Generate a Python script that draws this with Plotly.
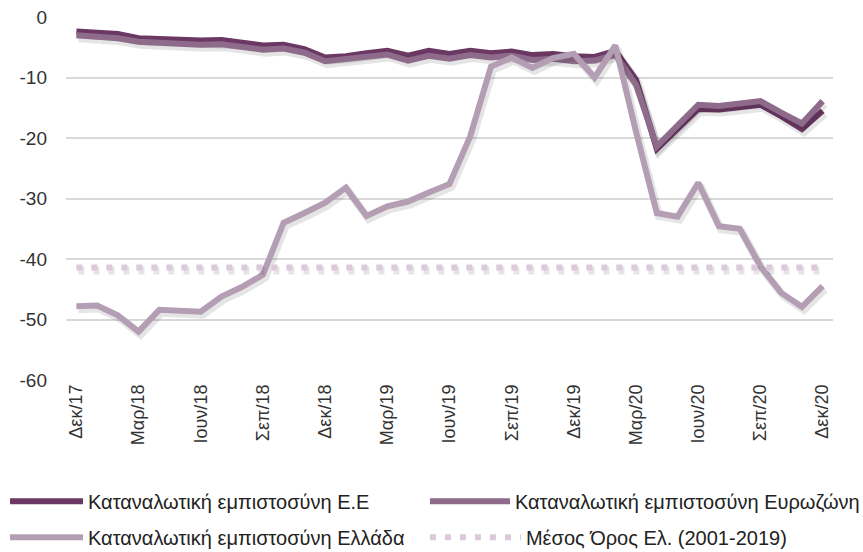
import plotly.graph_objects as go

months = ["Δεκ/17", "Ιαν/18", "Φεβ/18", "Μαρ/18", "Απρ/18", "Μαϊ/18", "Ιουν/18", "Ιουλ/18", "Αυγ/18",
          "Σεπ/18", "Οκτ/18", "Νοε/18", "Δεκ/18", "Ιαν/19", "Φεβ/19", "Μαρ/19", "Απρ/19", "Μαϊ/19",
          "Ιουν/19", "Ιουλ/19", "Αυγ/19", "Σεπ/19", "Οκτ/19", "Νοε/19", "Δεκ/19", "Ιαν/20", "Φεβ/20",
          "Μαρ/20", "Απρ/20", "Μαϊ/20", "Ιουν/20", "Ιουλ/20", "Αυγ/20", "Σεπ/20", "Οκτ/20", "Νοε/20",
          "Δεκ/20"]

eu = [-2.4, -2.5, -2.8, -3.5, -3.6, -3.9, -3.9, -3.8, -4.2, -4.7, -4.6, -5.3, -6.7, -6.5, -6.0,
      -5.6, -6.4, -5.6, -6.1, -5.6, -6.0, -5.7, -6.3, -6.1, -6.5, -6.6, -5.6, -10.4, -21.8, -18.6,
      -15.2, -15.3, -15.0, -14.5, -16.4, -18.5, -15.5]

ez = [-3.0, -3.2, -3.5, -4.1, -4.3, -4.6, -4.6, -4.5, -4.9, -5.4, -5.2, -5.9, -7.3, -7.0, -6.6,
      -6.2, -7.2, -6.4, -6.9, -6.3, -6.7, -6.4, -7.1, -6.9, -7.3, -7.2, -6.2, -11.2, -21.4, -18.0,
      -14.5, -14.7, -14.4, -13.9, -15.8, -17.6, -13.9]

gr = [-47.8, -47.7, -49.3, -52.0, -48.4, -48.5, -48.7, -46.2, -44.6, -42.6, -34.0, -32.4, -30.7,
      -28.2, -32.9, -31.3, -30.5, -29.0, -27.6, -19.7, -8.2, -6.7, -8.4, -6.8, -6.1, -10.0, -4.7,
      -19.0, -32.4, -33.0, -27.4, -34.6, -35.0, -41.2, -45.6, -47.9, -44.5]

avg_value = -41.4
avg = [avg_value for _ in months]

x_tick_labels = months[::3]
y_tick_vals = [0, -10, -20, -30, -40, -50, -60]
y_tick_text = ["0", "-10", "-20", "-30", "-40", "-50", "-60"]

names = ["Καταναλωτική εμπιστοσύνη Ε.Ε", "Καταναλωτική εμπιστοσύνη Ευρωζώνη",
         "Καταναλωτική εμπιστοσύνη Ελλάδα", "Μέσος Όρος Ελ. (2001-2019)"]
colors = ["#6B3864", "#8E6B8A", "#B49EB4", "#DCCADA"]

x = list(range(len(months)))
shadow_dx = 0.1
shadow_dy = 0.5

fig = go.Figure()

series = [(eu, names[0], colors[0], "solid", "legend"),
          (ez, names[1], colors[1], "solid", "legend2"),
          (gr, names[2], colors[2], "solid", "legend3"),
          (avg, names[3], colors[3], "6px,9px", "legend4")]

for vals, name, col, dash, leg in series:
    fig.add_trace(go.Scatter(
        x=[v + shadow_dx for v in x], y=[v - shadow_dy for v in vals], mode="lines",
        line=dict(color="rgba(0,0,0,0.10)", width=8, dash=dash),
        showlegend=False, hoverinfo="skip"))
    fig.add_trace(go.Scatter(
        x=x, y=vals, mode="lines", name=name, legend=leg,
        line=dict(color=col, width=6, dash=dash)))

leg_common = dict(orientation="h", xanchor="left", yanchor="middle",
                  font=dict(size=20, color="#222222"), bgcolor="rgba(0,0,0,0)")

fig.update_layout(
    width=863, height=552,
    margin=dict(l=66, r=30, t=17, b=172, autoexpand=False),
    paper_bgcolor="white", plot_bgcolor="white",
    font=dict(family="Liberation Sans, Arial, sans-serif", color="#333333"),
    xaxis=dict(
        range=[-0.5, len(months) - 0.5],
        tickmode="array", tickvals=x[::3], ticktext=x_tick_labels,
        tickangle=-90, tickfont=dict(size=18, color="#333333"),
        showgrid=False, zeroline=False, showline=False, ticks="",
    ),
    yaxis=dict(
        range=[-60, 0], tickmode="array", tickvals=y_tick_vals, ticktext=y_tick_text,
        tickfont=dict(size=19, color="#333333"),
        showgrid=True, gridcolor="#D9D9D9", gridwidth=1.5,
        zeroline=False, showline=False, ticks="", ticklabelstandoff=18,
    ),
    legend=dict(x=-0.0795, y=-0.334, itemwidth=73, **leg_common),
    legend2=dict(x=0.468, y=-0.334, itemwidth=80, **leg_common),
    legend3=dict(x=-0.0795, y=-0.433, itemwidth=73, **leg_common),
    legend4=dict(x=0.468, y=-0.433, itemwidth=91, **leg_common),
    showlegend=True,
)

fig.write_html("out.html", config={"displayModeBar": False},
               post_script="document.body.style.margin='0';")
